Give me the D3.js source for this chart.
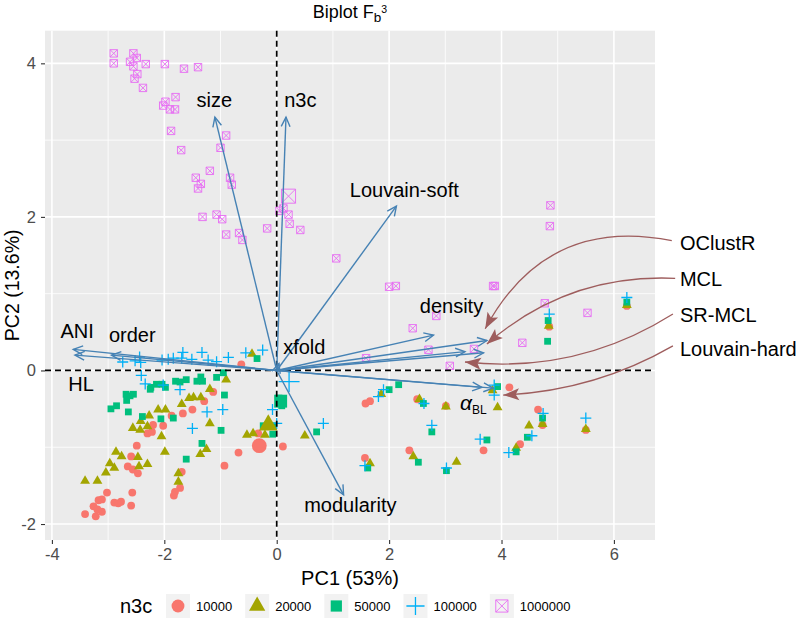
<!DOCTYPE html>
<html>
<head>
<meta charset="utf-8">
<script src="https://cdn.jsdelivr.net/npm/d3@7"></script>
<style>
body{margin:0;background:#fff;}
text{font-family:"Liberation Sans",Arial,Helvetica,sans-serif;}
</style>
</head>
<body>
<svg id="chart" width="798" height="629"></svg>
<script>
// scores [PC1, PC2] for each n3c group
var pts10000 = [[-3.41,-1.87],[-3.22,-1.90],[-3.26,-1.77],[-3.19,-1.81],[-3.11,-1.84],[-3.17,-1.69],[-3.11,-1.68],[-3.02,-1.59],[-2.89,-1.72],[-2.82,-1.73],[-2.77,-1.71],[-2.57,-1.59],[-2.59,-1.76],[-2.65,-1.25],[-2.56,-1.29],[-2.47,-1.34],[-2.59,-1.12],[-2.49,-0.98],[-2.30,-0.82],[-2.22,-0.80],[-2.20,-0.71],[-2.02,-0.72],[-1.87,-0.59],[-1.67,-0.56],[-1.50,-0.51],[-1.29,-0.40],[-1.13,-0.28],[-0.63,0.08],[-1.69,-1.32],[-1.72,-1.53],[-1.81,-1.58],[-1.83,-1.63],[-0.93,-1.24],[-0.68,-1.07],[0.11,-0.99],[-0.33,-0.82],[2.50,-0.375],[3.01,-0.46],[4.14,-0.22],[4.85,0.57],[4.65,-0.51],[4.73,-0.71],[4.33,-0.96],[3.68,-1.04],[2.36,-1.04],[5.50,-0.775],[6.23,0.84],[1.58,-0.43],[1.66,-0.40],[1.57,-1.14]];
var pts20000 = [[-3.41,-1.44],[-3.19,-1.44],[-3.04,-1.33],[-2.97,-1.21],[-2.86,-1.06],[-2.76,-1.12],[-2.89,-1.27],[-2.56,-0.75],[-2.42,-0.66],[-2.43,-0.775],[-2.30,-0.73],[-2.47,-1.13],[-2.45,-1.25],[-2.30,-1.22],[-2.27,-0.59],[-2.05,-0.86],[-2.11,-0.51],[-1.98,-0.51],[-1.99,-1.06],[-1.75,-1.34],[-1.75,-1.45],[-1.69,-0.44],[-1.56,-0.36],[-1.48,-0.35],[-1.35,-0.35],[-1.19,-0.245],[-1.19,-0.69],[-1.36,-1.09],[-1.25,-1.025],[-0.90,-0.12],[-0.53,-0.84],[-0.42,-0.82],[-0.21,-0.84],[-0.44,0.215],[0.50,-0.85],[1.66,-1.21],[1.86,-0.31],[2.54,-0.375],[3.01,-0.47],[3.84,-0.26],[3.93,-0.48],[4.49,-0.72],[4.73,-0.70],[4.26,-1.01],[2.43,-1.12],[3.20,-1.19],[5.50,-0.765],[6.23,0.85],[4.84,0.58]];
var pts50000 = [[-2.95,-0.50],[-2.85,-0.46],[-2.64,-0.54],[-2.67,-0.39],[-2.61,-0.33],[-2.55,-0.31],[-2.68,-0.31],[-2.39,-0.60],[-2.24,-0.22],[-2.25,-0.245],[-2.14,-0.18],[-2.04,-0.18],[-1.98,-0.22],[-2.06,-0.63],[-1.84,-0.62],[-1.80,-0.14],[-1.72,-0.15],[-1.61,-0.12],[-1.42,-0.14],[-1.35,-0.085],[-1.32,-0.14],[-1.07,-0.09],[-0.95,-0.03],[-0.93,-0.32],[-0.99,-0.78],[-1.33,-0.95],[-1.61,-1.155],[-0.35,0.155],[0.04,-0.36],[0.09,-0.46],[-0.06,-0.72],[-0.07,-0.83],[-0.24,-0.72],[0.71,-0.80],[1.62,-1.27],[2.00,-0.25],[2.17,-0.185],[2.61,-0.43],[2.76,-0.80],[3.74,-0.905],[3.02,-1.305],[2.52,-1.195],[4.26,-1.06],[4.46,-0.87],[4.73,-0.62],[4.82,0.38],[4.83,0.65],[6.23,0.89],[3.93,-0.21]];
var pts100000 = [[-2.74,0.11],[-2.52,0.125],[-2.42,0.105],[-2.44,0.175],[-2.41,-0.065],[-2.34,-0.175],[-2.04,0.135],[-1.93,0.145],[-1.84,0.16],[-1.67,0.235],[-1.69,0.16],[-1.51,0.145],[-1.33,0.235],[-1.22,0.135],[-1.07,0.115],[-0.86,0.17],[-0.55,0.23],[-0.25,0.265],[-2.02,-0.19],[-1.72,-0.25],[-1.24,-0.54],[-0.96,-0.51],[-1.50,-0.755],[-0.075,-0.51],[0.0,-0.69],[0.83,-0.69],[1.81,-0.34],[1.57,-1.24],[1.90,-0.25],[2.62,-0.43],[2.76,-0.715],[3.62,-0.895],[3.87,-0.19],[3.87,-0.32],[4.13,-1.07],[4.54,-0.85],[4.74,-0.56],[4.85,0.735],[5.50,-0.62],[6.23,0.95],[3.02,-1.27]];
var pts1000000 = [[-2.90,4.13],[-2.90,4.00],[-2.55,4.13],[-2.49,4.07],[-2.61,4.02],[-2.55,3.96],[-2.33,3.99],[-1.99,3.99],[-1.65,3.93],[-1.40,3.95],[-2.48,3.86],[-2.53,3.80],[-2.38,3.68],[-1.98,3.50],[-2.02,3.45],[-1.90,3.40],[-1.81,3.40],[-1.80,3.56],[-1.88,3.12],[-1.70,2.87],[-0.90,3.06],[-1.00,2.90],[-1.19,2.60],[-1.44,2.51],[-1.35,2.43],[-1.40,2.37],[-0.83,2.51],[-0.80,2.42],[-1.32,2.00],[-1.07,2.03],[-0.97,1.97],[-0.90,1.77],[-0.67,1.79],[-0.61,1.70],[-0.17,1.85],[0.05,2.08],[0.12,2.11],[0.21,2.03],[0.23,1.91],[0.42,1.83],[1.06,1.46],[2.00,1.09],[2.12,1.10],[4.87,2.15],[4.86,1.88],[3.85,1.10],[3.88,1.10],[4.77,0.875],[5.53,0.75],[2.84,0.71],[2.42,0.55],[2.70,0.27],[3.51,0.28],[3.08,0.06],[4.37,0.36],[1.59,0.16]];

// one enlarged point per group
var bigPC1 = [-0.31, -0.15, 0.07, 0.22, 0.21];
var bigPC2 = [-0.98, -0.71, -0.40, -0.145, 2.27];

var groupLabels = ["10000", "20000", "50000", "100000", "1000000"];
var groupColors = ["#F8766D", "#A3A500", "#00BF7D", "#00B0F6", "#E76BF3"];
var groupShapes = ["circle", "triangle", "square", "plus", "squarecross"];

// loadings (arrow tips)
var varNames = ["size", "n3c", "Louvain-soft", "ANI", "HL", "order", "xfold", "modularity", "density", "OClustR", "MCL", "SR-MCL", "Louvain-hard", "alphaBL"];
var varPC1 = [-1.10, 0.165, 2.13, -3.62, -3.59, -2.94, 0.04, 1.19, 2.79, 3.74, 3.68, 3.35, 3.85, 3.65];
var varPC2 = [3.30, 3.30, 2.14, 0.275, 0.20, 0.20, 0.09, -1.62, 0.46, 0.39, 0.23, 0.245, -0.23, -0.22];

// labels drawn next to the arrows
var labelText = ["size", "n3c", "Louvain-soft", "ANI", "order", "HL", "xfold", "modularity", "density"];
var labelPC1 = [-1.11, 0.42, 2.27, -3.55, -2.57, -3.48, 0.49, 1.31, 3.11];
var labelPC2 = [3.43, 3.43, 2.26, 0.42, 0.375, -0.27, 0.215, -1.84, 0.75];
var alphaPos = [3.50, -0.51];

// annotated arrows on the right side
var noteText = ["OClustR", "MCL", "SR-MCL", "Louvain-hard"];
var noteTextX = [7.175, 7.175, 7.175, 7.175];
var noteTextY = [1.569, 1.10, 0.635, 0.189];
var noteFromX = [7.03, 7.09, 7.05, 7.05];
var noteFromY = [1.69, 1.20, 0.736, 0.32];
var noteToX = [3.71, 3.74, 3.35, 4.03];
var noteToY = [0.544, 0.345, 0.11, -0.32];
var noteBend = [0.185, 0.10, -0.087, -0.061];

var xMajor = [-4, -2, 0, 2, 4, 6];
var xMinor = [-3, -1, 1, 3, 5];
var yMajor = [-2, 0, 2, 4];
var yMinor = [-1, 1, 3];

var svg = d3.select("#chart");
var panel = {left: 45, right: 655, top: 30.7, bottom: 540};

var xScale = d3.scaleLinear().domain([-4.123, 6.731]).range([panel.left, panel.right]);
var yScale = d3.scaleLinear().domain([-2.208, 4.425]).range([panel.bottom, panel.top]);

var defs = svg.append("defs");
defs.append("marker")
    .attr("id", "blueHead")
    .attr("markerUnits", "userSpaceOnUse")
    .attr("markerWidth", 14).attr("markerHeight", 14)
    .attr("viewBox", "0 0 14 14")
    .attr("refX", 11).attr("refY", 7)
    .attr("orient", "auto")
    .append("path")
    .attr("d", "M1.5,2.6 L11,7 L1.5,11.4")
    .attr("fill", "none")
    .attr("stroke", "#4682B4")
    .attr("stroke-width", 1.4);
defs.append("marker")
    .attr("id", "brownHead")
    .attr("markerUnits", "userSpaceOnUse")
    .attr("markerWidth", 18).attr("markerHeight", 18)
    .attr("viewBox", "0 0 18 18")
    .attr("refX", 17).attr("refY", 9)
    .attr("orient", "auto")
    .append("path")
    .attr("d", "M1,3 L17,9 L1,15 L4.5,9 Z")
    .attr("fill", "#9E5D5D");

// panel + grid
svg.append("rect")
    .attr("x", panel.left).attr("y", panel.top)
    .attr("width", panel.right - panel.left).attr("height", panel.bottom - panel.top)
    .attr("fill", "#EBEBEB");

var grid = svg.append("g");
grid.selectAll(".xmin").data(xMinor).enter().append("line")
    .attr("x1", function(d) { return xScale(d); }).attr("x2", function(d) { return xScale(d); })
    .attr("y1", panel.top).attr("y2", panel.bottom)
    .attr("stroke", "#fff").attr("stroke-width", 0.8);
grid.selectAll(".ymin").data(yMinor).enter().append("line")
    .attr("y1", function(d) { return yScale(d); }).attr("y2", function(d) { return yScale(d); })
    .attr("x1", panel.left).attr("x2", panel.right)
    .attr("stroke", "#fff").attr("stroke-width", 0.8);
grid.selectAll(".xmaj").data(xMajor).enter().append("line")
    .attr("x1", function(d) { return xScale(d); }).attr("x2", function(d) { return xScale(d); })
    .attr("y1", panel.top).attr("y2", panel.bottom)
    .attr("stroke", "#fff").attr("stroke-width", 1.6);
grid.selectAll(".ymaj").data(yMajor).enter().append("line")
    .attr("y1", function(d) { return yScale(d); }).attr("y2", function(d) { return yScale(d); })
    .attr("x1", panel.left).attr("x2", panel.right)
    .attr("stroke", "#fff").attr("stroke-width", 1.6);

// axes
var xAxis = svg.append("g")
    .attr("transform", "translate(0," + panel.bottom + ")")
    .call(d3.axisBottom(xScale).tickValues(xMajor).tickSize(4).tickPadding(4)
        .tickFormat(function(d) { return String(d); }));
var yAxis = svg.append("g")
    .attr("transform", "translate(" + panel.left + ",0)")
    .call(d3.axisLeft(yScale).tickValues(yMajor).tickSize(4).tickPadding(5)
        .tickFormat(function(d) { return String(d); }));
[xAxis, yAxis].forEach(function(a) {
    a.select(".domain").remove();
    a.selectAll(".tick line").attr("stroke", "#333333").attr("stroke-width", 1.1);
    a.selectAll(".tick text")
        .attr("fill", "#4D4D4D")
        .style("font-size", "16.5px")
        .style("font-family", "'Liberation Sans', Arial, sans-serif");
});

// symbol drawing
function drawSymbol(g, shape, color, x, y, k) {
    if (shape === "circle") {
        g.append("circle").attr("cx", x).attr("cy", y).attr("r", 3.9 * k).attr("fill", color);
    } else if (shape === "triangle") {
        g.append("path")
            .attr("transform", "translate(" + x + "," + y + ")")
            .attr("d", d3.symbol().type(d3.symbolTriangle).size(42 * k * k)())
            .attr("fill", color);
    } else if (shape === "square") {
        g.append("rect").attr("x", x - 3.4 * k).attr("y", y - 3.4 * k)
            .attr("width", 6.8 * k).attr("height", 6.8 * k).attr("fill", color);
    } else if (shape === "plus") {
        var h = 5.5 * k;
        g.append("path")
            .attr("d", "M" + (x - h) + "," + y + "H" + (x + h) + "M" + x + "," + (y - h) + "V" + (y + h))
            .attr("stroke", color).attr("stroke-width", 1.3).attr("fill", "none");
    } else {
        var s = 3.7 * k;
        g.append("path")
            .attr("d", "M" + (x - s) + "," + (y - s) + "h" + 2 * s + "v" + 2 * s + "h" + (-2 * s) + "Z" +
                "M" + (x - s) + "," + (y - s) + "L" + (x + s) + "," + (y + s) +
                "M" + (x + s) + "," + (y - s) + "L" + (x - s) + "," + (y + s))
            .attr("stroke", color).attr("stroke-width", 0.9).attr("fill", "none");
    }
}

var groups = [pts10000, pts20000, pts50000, pts100000, pts1000000];
var pointLayer = svg.append("g");
groups.forEach(function(pts, gi) {
    pts.forEach(function(p) {
        drawSymbol(pointLayer, groupShapes[gi], groupColors[gi], xScale(p[0]), yScale(p[1]), 1);
    });
});
bigPC1.forEach(function(v, gi) {
    drawSymbol(pointLayer, groupShapes[gi], groupColors[gi], xScale(v), yScale(bigPC2[gi]), 1.9);
});

// dashed reference lines
svg.append("line")
    .attr("x1", xScale(0)).attr("x2", xScale(0))
    .attr("y1", panel.top).attr("y2", panel.bottom)
    .attr("stroke", "#000").attr("stroke-width", 1.7).attr("stroke-dasharray", "6,4");
svg.append("line")
    .attr("y1", yScale(0)).attr("y2", yScale(0))
    .attr("x1", panel.left).attr("x2", panel.right)
    .attr("stroke", "#000").attr("stroke-width", 1.7).attr("stroke-dasharray", "6,4");

// loading arrows
svg.append("g").selectAll("line")
    .data(varNames)
    .enter().append("line")
    .attr("x1", xScale(0)).attr("y1", yScale(0))
    .attr("x2", function(d, i) { return xScale(varPC1[i]); })
    .attr("y2", function(d, i) { return yScale(varPC2[i]); })
    .attr("stroke", "#4682B4")
    .attr("stroke-width", 1.4)
    .attr("marker-end", "url(#blueHead)");

svg.append("g").selectAll("text")
    .data(labelText)
    .enter().append("text")
    .attr("x", function(d, i) { return xScale(labelPC1[i]); })
    .attr("y", function(d, i) { return yScale(labelPC2[i]); })
    .attr("text-anchor", "middle")
    .style("font-size", "20px")
    .attr("fill", "#000")
    .text(function(d) { return d; });

var alpha = svg.append("text")
    .attr("x", xScale(alphaPos[0])).attr("y", yScale(alphaPos[1]))
    .attr("text-anchor", "middle")
    .style("font-size", "21px");
alpha.append("tspan").style("font-style", "italic").text("α");
alpha.append("tspan").attr("dy", 4).style("font-size", "12px").text("BL");

// curved annotation arrows
var notes = svg.append("g");
noteText.forEach(function(t, i) {
    var sx = xScale(noteFromX[i]), sy = yScale(noteFromY[i]);
    var ex = xScale(noteToX[i]), ey = yScale(noteToY[i]);
    var dx = ex - sx, dy = ey - sy;
    var cx = (sx + ex) / 2 + 2 * noteBend[i] * (-dy);
    var cy = (sy + ey) / 2 + 2 * noteBend[i] * dx;
    notes.append("path")
        .attr("d", "M" + sx + "," + sy + "Q" + cx + "," + cy + " " + ex + "," + ey)
        .attr("fill", "none")
        .attr("stroke", "#9E5D5D")
        .attr("stroke-width", 1.3)
        .attr("marker-end", "url(#brownHead)");
    notes.append("text")
        .attr("x", xScale(noteTextX[i])).attr("y", yScale(noteTextY[i]))
        .style("font-size", "20px")
        .text(t);
});

// titles
var title = svg.append("text")
    .attr("x", (panel.left + panel.right) / 2).attr("y", 17.5)
    .attr("text-anchor", "middle")
    .style("font-size", "18px");
title.append("tspan").text("Biplot F");
title.append("tspan").attr("dy", 4).style("font-size", "13.5px").text("b");
title.append("tspan").attr("dy", -9).style("font-size", "10.5px").text("3");

svg.append("text")
    .attr("x", (panel.left + panel.right) / 2).attr("y", 585)
    .attr("text-anchor", "middle")
    .style("font-size", "20px")
    .text("PC1 (53%)");
svg.append("text")
    .attr("transform", "translate(18.5," + (panel.top + panel.bottom) / 2 + ") rotate(-90)")
    .attr("text-anchor", "middle")
    .style("font-size", "19.5px")
    .text("PC2 (13.6%)");

// legend
var legend = svg.append("g");
var legY = 606;
legend.append("text").attr("x", 120).attr("y", legY + 7).style("font-size", "20px").text("n3c");
var lx = 166;
groupLabels.forEach(function(lab, i) {
    legend.append("rect").attr("x", lx).attr("y", legY - 12).attr("width", 24).attr("height", 24)
        .attr("fill", "#F2F2F2");
    drawSymbol(legend, groupShapes[i], groupColors[i], lx + 12, legY, 1.65);
    var t = legend.append("text").attr("x", lx + 30).attr("y", legY + 4.5)
        .style("font-size", "13px").text(lab);
    lx += 30 + t.node().getComputedTextLength() + 13;
});
</script>
</body>
</html>
